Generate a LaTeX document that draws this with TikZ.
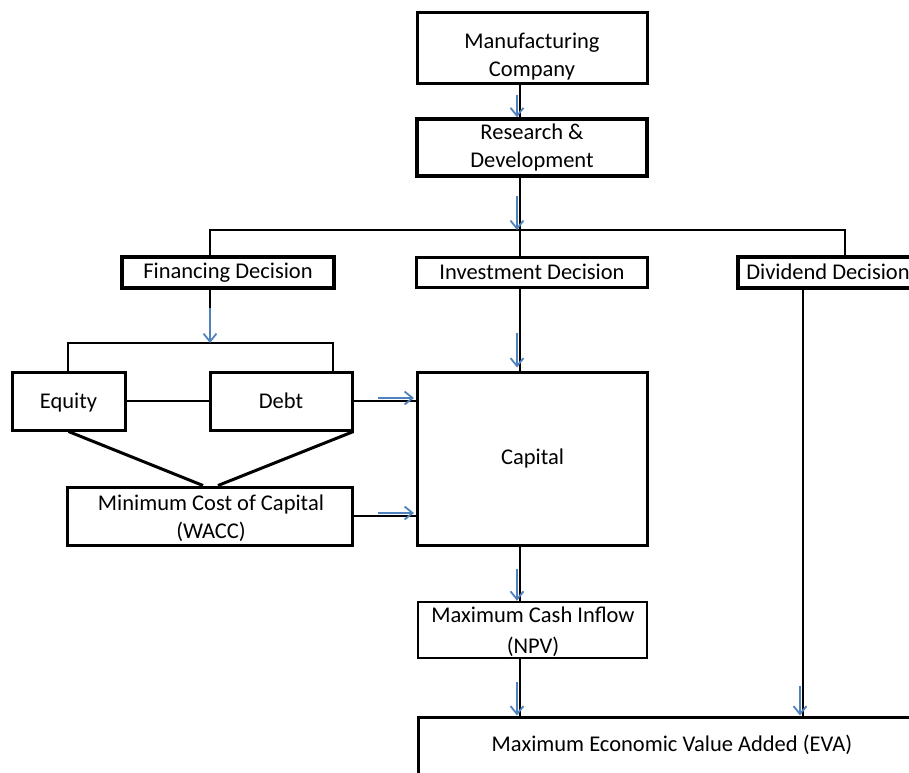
\documentclass[tikz,border=0pt]{standalone}
\usepackage{fontspec}
\setmainfont{Carlito}
\usetikzlibrary{arrows.meta,calc}
\definecolor{arrblue}{RGB}{79,129,189}
\tikzset{
  txt/.style={font=\fontsize{22.5}{28}\selectfont, align=center, inner sep=0pt},
  box/.style={draw=black, line width=3pt, fill=white, inner sep=0pt, align=center,
    font=\fontsize{22.5}{28}\selectfont},
  conn/.style={draw=black, line width=1.5pt},
  heavy/.style={draw=black, line width=3pt},
  barrow/.style={draw=arrblue, line width=1.8pt, -{Straight Barb[length=8pt,width=13pt,line width=1.8pt]}},
}
\begin{document}
\begin{tikzpicture}[x=1pt,y=-1pt]
\useasboundingbox (0,0) rectangle (909,772);
\clip (0,0) rectangle (909,772);
% column coordinates
\coordinate (cx) at (520,0);
\coordinate (fx) at (210,0);
\coordinate (dx) at (845,0);
\coordinate (vx) at (803,0);
\coordinate (bus) at (0,230);
\coordinate (sbus) at (0,343);
\coordinate (eqx) at (68,0);
\coordinate (dbx) at (333,0);

% boxes
\node[box, minimum width=230pt, minimum height=71pt] (mfg) at (532,47.5) {};
\node[txt] (mfgtxt) at (532,57) {Manufacturing\\Company};
\node[box, line width=3.5pt, minimum width=230pt, minimum height=57pt] (rd) at (532,147.5) {Research \&\\Development};
\node[box, line width=3.5pt, minimum width=212pt, minimum height=31pt] (fin) at (228,272.5) {Financing Decision};
\node[box, minimum width=231pt, minimum height=30pt] (inv) at (532,272) {Investment Decision};
\node[box, line width=3.5pt, minimum width=176pt, minimum height=31pt] (div) at (826,272.5) {};
\node[txt] (divtxt) at (828,272) {Dividend Decision};
\node[box, minimum width=113pt, minimum height=58pt] (eq) at (68.5,401) {};
\node[txt] (eqtxt) at (68.5,403) {Equity};
\node[box, minimum width=142pt, minimum height=58pt] (debt) at (281,401) {Debt};
\node[box, minimum width=285pt, minimum height=58pt] (wacc) at (209.5,516) {};
\node[txt] (wacctxt) at (211,518) {Minimum Cost of Capital\\(WACC)};
\node[box, minimum width=230pt, minimum height=173pt] (cap) at (532.5,458.5) {Capital};
\node[box, line width=2.5pt, minimum width=229pt, minimum height=56pt] (npv) at (532.5,630) {};
\node[txt, font=\fontsize{22.5}{31}\selectfont] (npvtxt) at (533,632) {Maximum Cash Inflow\\(NPV)};
\node[box, minimum width=510pt, minimum height=60pt] (eva) at (673,747) {};
\node[txt] (evatxt) at (672,745) {Maximum Economic Value Added (EVA)};

% connectors
\draw[conn] (mfg.south -| cx) -- (rd.north -| cx);
\draw[conn] (rd.south -| cx) -- (inv.north -| cx);
\draw[conn] (fin.north -| fx) |- (bus -| dx) -- (div.north -| dx);
\draw[conn] (fin.south -| fx) -- (sbus -| fx);
\draw[conn] (eq.north -| eqx) |- (sbus -| dbx) -- (debt.north -| dbx);
\draw[conn] (eq.east) -- (debt.west);
\draw[conn] (debt.east) -- (debt.east -| cap.west);
\draw[heavy] (eq.south) -- ($(wacc.north)+(-6.5,0)$);
\draw[heavy] (debt.south east) -- ($(wacc.north)+(8.5,0)$);
\draw[conn, line width=2.5pt] (wacc.east) -- (wacc.east -| cap.west);
\draw[conn] (inv.south -| cx) -- (cap.north -| cx);
\draw[conn] (cap.south -| cx) -- (npv.north -| cx);
\draw[conn] (npv.south -| cx) -- (eva.north -| cx);
\draw[conn] (div.south -| vx) -- (eva.north -| vx);

% blue arrow overlays
\draw[barrow] ($(rd.north -| cx)+(-3,-22)$) -- ($(rd.north -| cx)+(-3,0)$);
\draw[barrow] ($(bus -| cx)+(-3,-34)$) -- ($(bus -| cx)+(-3,0)$);
\draw[barrow] ($(sbus -| fx)+(0,-35)$) -- (sbus -| fx);
\draw[barrow] ($(cap.north -| cx)+(-3,-38)$) -- ($(cap.north -| cx)+(-3,-3)$);
\draw[barrow] ($(debt.east -| cap.west)+(-38,-3)$) -- ($(debt.east -| cap.west)+(-2,-3)$);
\draw[barrow] ($(wacc.east -| cap.west)+(-38,-3)$) -- ($(wacc.east -| cap.west)+(-2,-3)$);
\draw[barrow] ($(npv.north -| cx)+(-3,-32)$) -- ($(npv.north -| cx)+(-3,0)$);
\draw[barrow] ($(eva.north -| cx)+(-3,-34)$) -- ($(eva.north -| cx)+(-3,0)$);
\draw[barrow] ($(eva.north -| vx)+(-3,-30)$) -- ($(eva.north -| vx)+(-3,0)$);
\end{tikzpicture}
\end{document}
